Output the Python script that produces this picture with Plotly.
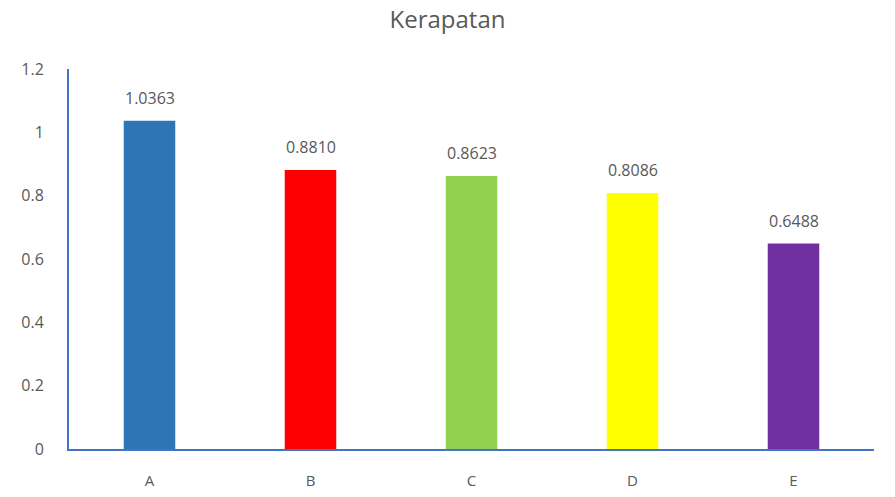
import plotly.graph_objects as go

categories = ["A", "B", "C", "D", "E"]
values = [1.0363, 0.8810, 0.8623, 0.8086, 0.6488]
colors = ["#2E75B6", "#FF0000", "#92D050", "#FFFF00", "#7030A0"]
y_ticks = [0, 0.2, 0.4, 0.6, 0.8, 1, 1.2]
y_tick_labels = ["0", "0.2", "0.4", "0.6", "0.8", "1", "1.2"]

fig = go.Figure(
    go.Bar(
        x=categories,
        y=values,
        marker=dict(color=colors, line=dict(width=0)),
        width=0.32,
        cliponaxis=False,
    )
)

# value labels above each bar
for cat, val in zip(categories, values):
    fig.add_annotation(
        x=cat, y=val, text=f"{val:.4f}", showarrow=False,
        yanchor="bottom", yshift=10,
        font=dict(size=16, color="#595959"),
    )

fig.update_layout(
    title=dict(text="Kerapatan", x=0.5, xanchor="center", y=0.96, yanchor="middle",
               font=dict(size=24, color="#595959")),
    width=895,
    height=497,
    margin=dict(l=69, r=21, t=69, b=48),
    plot_bgcolor="white",
    paper_bgcolor="white",
    font=dict(family="Open Sans", color="#595959"),
    showlegend=False,
)
fig.update_xaxes(
    showline=True, linecolor="#4472C4", linewidth=2,
    showgrid=False, ticks="", tickfont=dict(size=15, color="#595959"),
    ticklabelstandoff=17, automargin=False,
)
fig.update_yaxes(
    range=[0, 1.2], tickvals=y_ticks, ticktext=y_tick_labels,
    showline=True, linecolor="#4472C4", linewidth=2,
    showgrid=False, zeroline=False, ticks="",
    tickfont=dict(size=16, color="#595959"), ticklabelstandoff=20,
    automargin=False,
)

fig.write_html("out.html")
